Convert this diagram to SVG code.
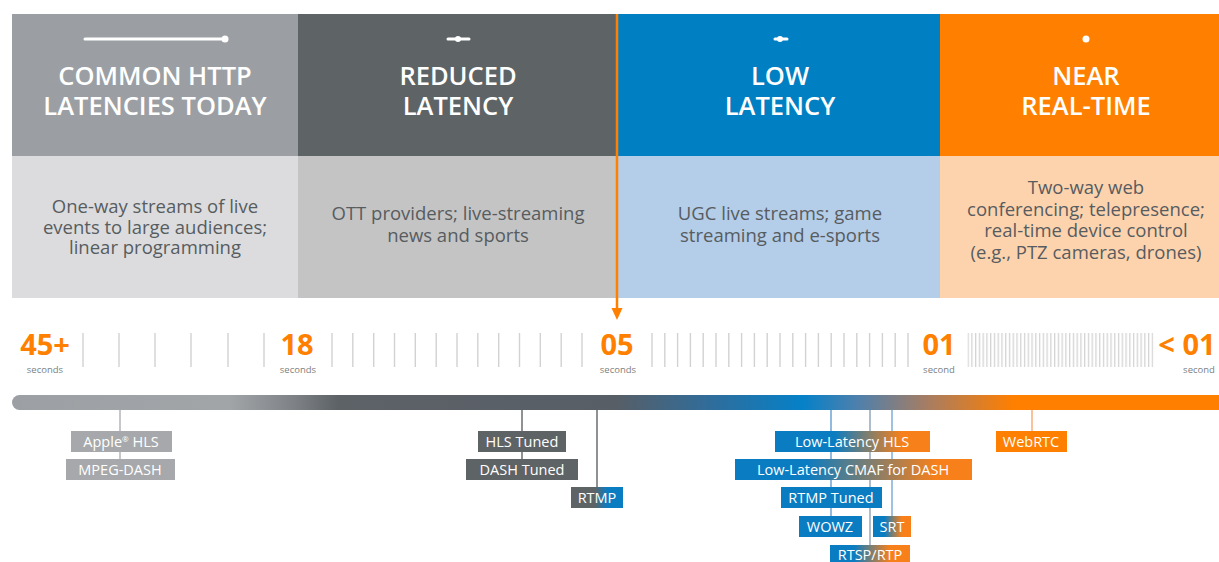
<svg xmlns="http://www.w3.org/2000/svg" width="1219" height="562" viewBox="0 0 1219 562">
  <defs>
    <style>
      .hd { font-family: "Open Sans", "Liberation Sans", sans-serif; font-weight: 600; font-size: 25.5px; fill: #ffffff; text-anchor: middle; }
      .ds { font-family: "Open Sans", "Liberation Sans", sans-serif; font-size: 18.5px; fill: #575c60; text-anchor: middle; }
      .num { font-family: "Open Sans", "Liberation Sans", sans-serif; font-weight: 700; font-size: 29px; fill: #ff7f00; text-anchor: middle; }
      .unit { font-family: "Open Sans", "Liberation Sans", sans-serif; font-size: 9.5px; fill: #7c7f82; text-anchor: middle; }
      .lb { font-family: "Open Sans", "Liberation Sans", sans-serif; font-size: 14.5px; fill: #ffffff; text-anchor: middle; }
      .tick { stroke: #d2d2d2; stroke-width: 1.4; fill: none; }
      .icon { stroke: #ffffff; stroke-width: 3; stroke-linecap: round; fill: none; }
    </style>
    <linearGradient id="bar" gradientUnits="userSpaceOnUse" x1="12" y1="0" x2="1219" y2="0">
      <stop offset="0" stop-color="#9ca0a4"/>
      <stop offset="0.18" stop-color="#a2a5a8"/>
      <stop offset="0.235" stop-color="#7d8185"/>
      <stop offset="0.27" stop-color="#5d6267"/>
      <stop offset="0.5" stop-color="#575e66"/>
      <stop offset="0.58" stop-color="#2f6d9c"/>
      <stop offset="0.655" stop-color="#0581c8"/>
      <stop offset="0.7" stop-color="#4d80ad"/>
      <stop offset="0.76" stop-color="#a97d60"/>
      <stop offset="0.83" stop-color="#ff7f00"/>
      <stop offset="1" stop-color="#ff7f00"/>
    </linearGradient>
    <linearGradient id="gb" x1="0" y1="0" x2="1" y2="0">
      <stop offset="0.45" stop-color="#5e6366"/>
      <stop offset="0.7" stop-color="#0a7cc2"/>
    </linearGradient>
    <linearGradient id="bo1" x1="0" y1="0" x2="1" y2="0">
      <stop offset="0.38" stop-color="#0a7cc2"/>
      <stop offset="0.82" stop-color="#f7801a"/>
    </linearGradient>
    <linearGradient id="bo2" x1="0" y1="0" x2="1" y2="0">
      <stop offset="0.3" stop-color="#0a7cc2"/>
      <stop offset="0.85" stop-color="#f7801a"/>
    </linearGradient>
    <linearGradient id="bo3" x1="0" y1="0" x2="1" y2="0">
      <stop offset="0.3" stop-color="#0a7cc2"/>
      <stop offset="0.75" stop-color="#f7801a"/>
    </linearGradient>
    <pattern id="dense" patternUnits="userSpaceOnUse" x="967.5" y="0" width="3.76" height="40">
      <rect x="0" y="0" width="1.3" height="40" fill="#d4d4d4"/>
    </pattern>
  </defs>

  <rect width="1219" height="562" fill="#ffffff"/>

  <!-- latency categories -->
  <g id="col-common-http">
    <rect x="12" y="14" width="286" height="142" fill="#9b9fa3"/>
    <rect x="12" y="156" width="286" height="142" fill="#dcdcde"/>
    <path class="icon" d="M85,39 H222"/>
    <circle cx="225" cy="39" r="3.5" fill="#ffffff"/>
    <text class="hd" x="155" y="85">COMMON HTTP</text>
    <text class="hd" x="155" y="115">LATENCIES TODAY</text>
    <text class="ds" x="155" y="213">One-way streams of live</text>
    <text class="ds" x="155" y="234">events to large audiences;</text>
    <text class="ds" x="155" y="254">linear programming</text>
  </g>

  <g id="col-reduced">
    <rect x="298" y="14" width="319" height="142" fill="#5e6366"/>
    <rect x="298" y="156" width="319" height="142" fill="#c4c4c5"/>
    <path class="icon" d="M448,39 H469"/>
    <circle cx="458" cy="39" r="3" fill="#ffffff"/>
    <text class="hd" x="458" y="85">REDUCED</text>
    <text class="hd" x="458" y="115">LATENCY</text>
    <text class="ds" x="458" y="220">OTT providers; live-streaming</text>
    <text class="ds" x="458" y="242">news and sports</text>
  </g>

  <g id="col-low">
    <rect x="617" y="14" width="323" height="142" fill="#0080c3"/>
    <rect x="617" y="156" width="323" height="142" fill="#b4cde8"/>
    <path class="icon" d="M775,39 H787"/>
    <circle cx="780" cy="39" r="3" fill="#ffffff"/>
    <text class="hd" x="780" y="85">LOW</text>
    <text class="hd" x="780" y="115">LATENCY</text>
    <text class="ds" x="780" y="220">UGC live streams; game</text>
    <text class="ds" x="780" y="242">streaming and e-sports</text>
  </g>

  <g id="col-near-real-time">
    <rect x="940" y="14" width="279" height="142" fill="#ff7f00"/>
    <rect x="940" y="156" width="279" height="142" fill="#fdd3ae"/>
    <circle cx="1086" cy="39" r="3.5" fill="#ffffff"/>
    <text class="hd" x="1086" y="85">NEAR</text>
    <text class="hd" x="1086" y="115">REAL-TIME</text>
    <text class="ds" x="1086" y="194">Two-way web</text>
    <text class="ds" x="1086" y="216">conferencing; telepresence;</text>
    <text class="ds" x="1086" y="237">real-time device control</text>
    <text class="ds" x="1086" y="259">(e.g., PTZ cameras, drones)</text>
  </g>

  <!-- time scale -->
  <g id="scale-ticks">
    <path class="tick" d="M83,333V367 M119,333V367 M155,333V367 M191,333V367 M228,333V367 M264,333V367"/>
    <path class="tick" d="M332,333V367 M352.8,333V367 M373.7,333V367 M394.5,333V367 M415.3,333V367 M436.2,333V367 M457,333V367 M477.8,333V367 M498.7,333V367 M519.5,333V367 M540.3,333V367 M561.2,333V367 M582,333V367"/>
    <path class="tick" d="M652,333V367 M664.8,333V367 M677.6,333V367 M690.4,333V367 M703.2,333V367 M716,333V367 M728.8,333V367 M741.6,333V367 M754.4,333V367 M767.2,333V367 M780,333V367 M792.8,333V367 M805.6,333V367 M818.4,333V367 M831.2,333V367 M844,333V367 M856.8,333V367 M869.6,333V367 M882.4,333V367 M895.2,333V367 M908,333V367"/>
    <rect x="967.5" y="333" width="186" height="34" fill="url(#dense)"/>
  </g>

  <g id="t-45">
    <text class="num" x="45" y="355">45+</text>
    <text class="unit" x="45" y="373">seconds</text>
  </g>
  <g id="t-18">
    <text class="num" x="297" y="355">18</text>
    <text class="unit" x="298" y="373">seconds</text>
  </g>
  <g id="t-05">
    <text class="num" x="617" y="355">05</text>
    <text class="unit" x="618" y="373">seconds</text>
  </g>
  <g id="t-01">
    <text class="num" x="939" y="355">01</text>
    <text class="unit" x="939" y="373">second</text>
  </g>
  <g id="t-lt01">
    <text class="num" x="1187" y="355">&lt; 01</text>
    <text class="unit" x="1199" y="373">second</text>
  </g>

  <!-- latency bar -->
  <rect id="latency-bar" x="12" y="395" width="1220" height="15" rx="7.5" fill="url(#bar)"/>

  <!-- leader lines and the 5 s marker -->
  <g id="connectors" fill="none" stroke-width="1.5">
    <path d="M120,410 V460" stroke="#b3b5b8"/>
    <path d="M522,410 V460" stroke="#6a6e72"/>
    <path d="M597,410 V488" stroke="#6a6e72"/>
    <path d="M831,410 V517" stroke="#6ea3d3"/>
    <path d="M870,410 V546" stroke="#93a6ba"/>
    <path d="M892,410 V517" stroke="#80aed8"/>
    <path d="M1032,410 V432" stroke="#f8ae78"/>
    <path d="M617,14 V310" stroke="#ff7f00" stroke-width="2.5"/>
    <polygon points="611.5,308 622.5,308 617,320" fill="#ff7f00" stroke="none"/>
  </g>

  <!-- protocols -->
  <g id="n-apple-hls">
    <rect x="71" y="431" width="101" height="21" fill="#a6a8ab"/>
    <text class="lb" x="121" y="447">Apple<tspan font-size="8" dy="-5">®</tspan><tspan dy="5"> HLS</tspan></text>
  </g>
  <g id="n-mpeg-dash">
    <rect x="66" y="459" width="109" height="21" fill="#a6a8ab"/>
    <text class="lb" x="120" y="475">MPEG-DASH</text>
  </g>
  <g id="n-hls-tuned">
    <rect x="478" y="431" width="88" height="21" fill="#5e6366"/>
    <text class="lb" x="522" y="447">HLS Tuned</text>
  </g>
  <g id="n-dash-tuned">
    <rect x="466" y="459" width="112" height="21" fill="#5e6366"/>
    <text class="lb" x="522" y="475">DASH Tuned</text>
  </g>
  <g id="n-rtmp">
    <rect x="571" y="487" width="52" height="21" fill="url(#gb)"/>
    <text class="lb" x="597" y="503">RTMP</text>
  </g>
  <g id="n-ll-hls">
    <rect x="775" y="431" width="155" height="21" fill="url(#bo1)"/>
    <text class="lb" x="852" y="447">Low-Latency HLS</text>
  </g>
  <g id="n-ll-cmaf">
    <rect x="735" y="459" width="237" height="21" fill="url(#bo2)"/>
    <text class="lb" x="853" y="475">Low-Latency CMAF for DASH</text>
  </g>
  <g id="n-rtmp-tuned">
    <rect x="781" y="487" width="101" height="21" fill="#0a7cc2"/>
    <text class="lb" x="831" y="503">RTMP Tuned</text>
  </g>
  <g id="n-wowz">
    <rect x="799" y="516" width="63" height="21" fill="#0a7cc2"/>
    <text class="lb" x="830" y="532">WOWZ</text>
  </g>
  <g id="n-srt">
    <rect x="873" y="516" width="38" height="21" fill="url(#bo3)"/>
    <text class="lb" x="892" y="532">SRT</text>
  </g>
  <g id="n-rtsp-rtp">
    <rect x="830" y="545" width="80" height="21" fill="url(#bo3)"/>
    <text class="lb" x="870" y="560">RTSP/RTP</text>
  </g>
  <g id="n-webrtc">
    <rect x="996" y="431" width="71" height="21" fill="#ff7f00"/>
    <text class="lb" x="1031" y="447">WebRTC</text>
  </g>
</svg>
